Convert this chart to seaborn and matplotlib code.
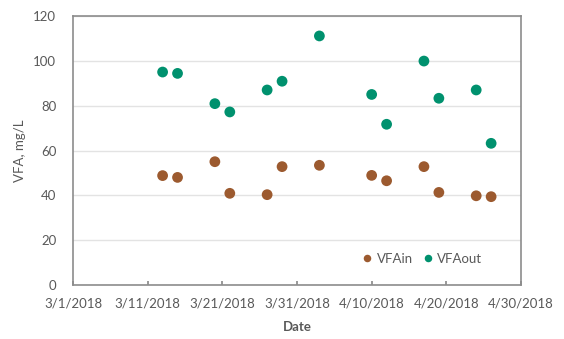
import matplotlib
matplotlib.use("Agg")
import matplotlib.pyplot as plt
import matplotlib.dates as mdates
import numpy as np
import pandas as pd
import seaborn as sns

# Sampling dates and measured VFA concentrations (mg/L)
dates = ["2018-03-13", "2018-03-15", "2018-03-20", "2018-03-22", "2018-03-27",
         "2018-03-29", "2018-04-03", "2018-04-10", "2018-04-12", "2018-04-17",
         "2018-04-19", "2018-04-24", "2018-04-26"]
vfa_in = [48.8, 48.0, 55.0, 40.9, 40.3, 52.8, 53.4, 48.9, 46.5, 52.8, 41.3, 39.8, 39.4]
vfa_out = [95.0, 94.4, 80.9, 77.2, 87.0, 90.9, 111.1, 85.0, 71.7, 99.9, 83.3, 87.0, 63.2]

x_ticks = ["2018-03-01", "2018-03-11", "2018-03-21", "2018-03-31",
           "2018-04-10", "2018-04-20", "2018-04-30"]
y_ticks = [0, 20, 40, 60, 80, 100, 120]

df = pd.DataFrame({
    "Date": pd.to_datetime(dates * 2),
    "VFA": vfa_in + vfa_out,
    "Series": ["VFAin"] * len(dates) + ["VFAout"] * len(dates),
})

sns.set_theme(style="white")
plt.rcParams["font.family"] = ["Lato", "DejaVu Sans"]
text_color = "#595959"

fig = plt.figure(figsize=(5.64, 3.39), dpi=100)
ax = fig.add_axes([73 / 564, 54 / 339, 448 / 564, 269 / 339])

palette = {"VFAin": "#9C5A2F", "VFAout": "#00916E"}
sns.scatterplot(data=df, x="Date", y="VFA", hue="Series", palette=palette,
                s=60, edgecolor="none", ax=ax, zorder=3)

ax.set_ylim(0, 120)
ax.set_yticks(y_ticks)
xt = pd.to_datetime(x_ticks)
ax.set_xlim(xt[0], xt[-1])
ax.set_xticks(xt)
ax.xaxis.set_major_formatter(mdates.DateFormatter("%-m/%-d/%Y"))

ax.yaxis.grid(True, color="#E3E3E3", linewidth=1.0)
ax.set_axisbelow(True)
for side in ["left", "right", "top", "bottom"]:
    ax.spines[side].set_visible(True)
    ax.spines[side].set_color("#8C8C8C")
    ax.spines[side].set_linewidth(1.2)

ax.tick_params(axis="x", direction="in", length=3, color="#8C8C8C",
               labelsize=9.5, labelcolor=text_color, pad=9, bottom=True)
ax.tick_params(axis="y", length=0, labelsize=9.5, labelcolor=text_color, pad=12)

ax.set_xlabel("Date", fontsize=9.5, fontweight="bold", color=text_color, labelpad=8)
ax.set_ylabel("VFA, mg/L", fontsize=9.5, color=text_color, labelpad=5)

leg = ax.legend(loc="lower right", bbox_to_anchor=(0.94, 0.03), ncol=2,
                frameon=False, fontsize=9.5, handlelength=0.9,
                handletextpad=0.25, columnspacing=0.7, markerscale=0.7)
for t in leg.get_texts():
    t.set_color(text_color)

fig.savefig("out.png", dpi=100)
